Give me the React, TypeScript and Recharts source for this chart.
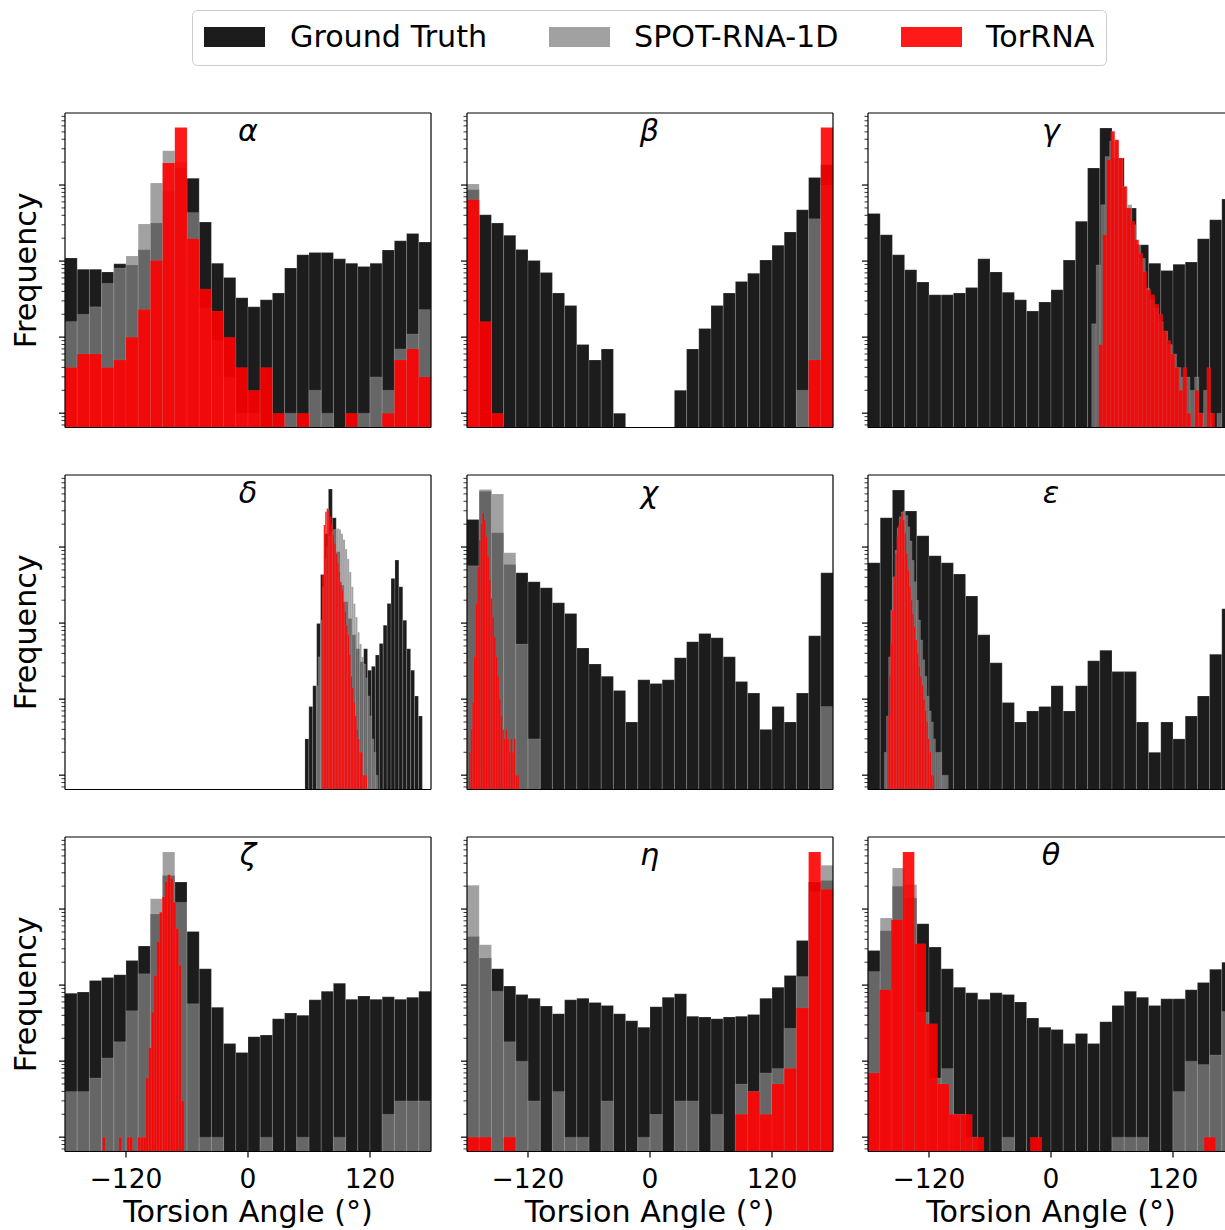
import React from 'react';
import { ComposedChart, XAxis, YAxis, ReferenceArea, Line } from 'recharts';

const FONT = '"DejaVu Sans", sans-serif';
const FLOOR = 0.648;
const CEIL = 8860;
const BINS = 30;
const FULL = [-180, 180];

// counts per bin, 30 bins over each series' own range
const alphaTruth = [110, 78, 78, 72, 92, 89, 141, 316, 826, 1675, 1233, 326, 94, 61, 33, 25, 31, 38, 81, 121, 130, 130, 107, 94, 85, 94, 140, 185, 231, 178];
const alphaSpot = [16, 20, 25, 51, 81, 117, 307, 1062, 2830, 2000, 437, 24, 9, 3, 1, 1, 0, 0, 1, 0, 2, 1, 0, 0, 1, 3, 2, 7, 11, 23];
const alphaTor = [4, 6, 6, 4, 5, 10, 23, 102, 1947, 5700, 197, 43, 22, 10, 4, 2, 4, 1, 0, 1, 0, 0, 0, 1, 0, 0, 1, 5, 7, 3];

const betaTruth = [869, 407, 316, 218, 142, 102, 71, 38, 26, 8, 5, 7, 1, 0, 0, 0, 0, 2, 7, 13, 26, 38, 54, 69, 103, 162, 241, 473, 1260, 1850];
const betaSpot = [1030, 0, 0, 0, 0, 0, 0, 0, 0, 0, 0, 0, 0, 0, 0, 0, 0, 0, 0, 0, 0, 0, 0, 0, 0, 0, 0, 2, 360, 1000];
const betaTor = [641, 16, 1, 0, 0, 0, 0, 0, 0, 0, 0, 0, 0, 0, 0, 0, 0, 0, 0, 0, 0, 0, 0, 0, 0, 0, 0, 0, 5, 5700];

const gammaTruth = [424, 222, 121, 77, 53, 36, 36, 38, 45, 107, 72, 39, 31, 22, 29, 42, 103, 333, 1675, 5620, 2265, 498, 164, 94, 75, 91, 97, 197, 350, 654];
const gammaSpotRange = [40, 172];
const gammaSpot = [15, 89, 551, 2380, 3800, 3760, 2265, 960, 551, 301, 164, 109, 44, 31, 24, 16, 12, 8, 6, 4, 3, 3, 2, 3, 1, 2, 1, 0, 1, 0];
const gammaTorRange = [47, 165];
const gammaTor = [8, 222, 2155, 5080, 3950, 2265, 960, 498, 333, 191, 127, 73, 42, 36, 27, 20, 12, 9, 6, 4, 2, 4, 1, 0, 2, 1, 0, 4, 1, 0];

const deltaTruthRange = [56, 171.5];
const deltaTruth = [3, 8, 15, 99, 437, 1500, 5800, 2430, 870, 316, 191, 115, 70, 46, 31, 46, 24, 27, 38, 54, 94, 181, 387, 674, 300, 109, 46, 24, 11, 6];
const deltaSpotRange = [67, 128];
const deltaSpot = [15, 36, 109, 301, 700, 1000, 1400, 1600, 1700, 1720, 1750, 1700, 1500, 1250, 940, 700, 470, 300, 180, 120, 76, 53, 36, 29, 19, 11, 6, 3, 2, 1];
const deltaTorRange = [73, 117];
const deltaTor = [428, 1947, 2915, 3220, 3070, 2500, 1947, 1435, 1110, 820, 610, 470, 350, 270, 190, 141, 94, 70, 38, 20, 14, 9, 6, 4, 3, 2, 2, 1, 1, 1];

const chiTruth = [2310, 5400, 1545, 591, 459, 350, 292, 185, 134, 47, 29, 20, 13, 5, 18, 16, 18, 35, 57, 73, 64, 36, 17, 12, 4, 8, 5, 12, 68, 459];
const chiSpot = [568, 5700, 4980, 842, 53, 3, 0, 0, 0, 0, 0, 0, 0, 0, 0, 0, 0, 0, 0, 0, 0, 0, 0, 0, 0, 0, 0, 0, 0, 8];
const chiTorRange = [-178, -129];
const chiTor = [2, 4, 9, 36, 182, 550, 1230, 2040, 2800, 2270, 1370, 750, 370, 210, 121, 66, 36, 20, 10, 6, 4, 3, 4, 3, 2, 3, 2, 3, 1, 1];

const epsTruth = [622, 2430, 5620, 2980, 1410, 769, 622, 441, 227, 70, 30, 9, 5, 7, 8, 15, 7, 15, 32, 44, 23, 23, 5, 2, 5, 3, 6, 11, 39, 154];
const epsSpotRange = [-164, -101];
const epsSpot = [2, 6, 36, 148, 405, 910, 1800, 2500, 2900, 3000, 2600, 1850, 1200, 670, 350, 200, 110, 60, 33, 20, 11, 7, 5, 3, 2, 2, 2, 1, 1, 1];
const epsTorRange = [-161, -115];
const epsTor = [6, 20, 54, 148, 405, 830, 1370, 1950, 2380, 2800, 2270, 1520, 830, 500, 300, 200, 133, 89, 60, 40, 27, 20, 15, 10, 7, 5, 3, 2, 1, 1];

const zetaTruth = [78, 81, 115, 126, 137, 211, 326, 860, 2770, 2265, 508, 164, 51, 17, 13, 21, 22, 36, 43, 40, 64, 83, 106, 65, 72, 65, 70, 65, 69, 83];
const zetaSpot = [4, 4, 6, 11, 18, 46, 141, 1370, 5620, 1233, 57, 1, 1, 0, 0, 0, 1, 0, 0, 1, 0, 0, 1, 0, 0, 0, 2, 3, 3, 3];
const zetaTorRange = [-143, -63];
const zetaTor = [1, 0, 0, 0, 0, 0, 1, 0, 0, 1, 1, 0, 0, 1, 1, 1, 6, 15, 44, 134, 370, 910, 1440, 2265, 2830, 2500, 1233, 550, 182, 3];

const etaTruth = [437, 227, 164, 97, 75, 67, 53, 42, 64, 67, 59, 54, 42, 34, 28, 52, 69, 77, 39, 38, 36, 38, 39, 41, 67, 94, 134, 387, 2265, 2380];
const etaSpot = [2050, 340, 83, 18, 10, 3, 0, 4, 1, 1, 0, 3, 0, 0, 1, 2, 0, 3, 3, 0, 2, 0, 5, 4, 7, 8, 27, 130, 1675, 3760];
const etaTor = [1, 1, 0, 1, 0, 0, 0, 0, 0, 0, 0, 0, 0, 0, 0, 0, 0, 0, 0, 0, 0, 0, 2, 4, 2, 5, 8, 50, 5620, 1815];

const thetaTruth = [286, 519, 1990, 1400, 641, 316, 164, 94, 79, 65, 79, 75, 60, 37, 28, 26, 17, 23, 17, 33, 54, 83, 69, 54, 66, 66, 87, 108, 161, 200];
const thetaSpot = [151, 762, 3460, 2100, 44, 6, 8, 2, 1, 0, 0, 1, 0, 0, 0, 0, 0, 0, 0, 0, 1, 1, 1, 0, 0, 4, 10, 9, 12, 45];
const thetaTorRange = [-180, 162];
const thetaTor = [7, 87, 724, 5620, 350, 31, 5, 2, 2, 1, 0, 0, 0, 0, 1, 0, 0, 0, 0, 0, 0, 0, 0, 0, 0, 0, 0, 0, 0, 1];

const xTicks = [-120, 0, 120];
const yTicks = [0.7, 0.8, 0.9, 1, 2, 3, 4, 5, 6, 7, 8, 9, 10, 20, 30, 40, 50, 60, 70, 80, 90, 100, 200, 300, 400, 500, 600, 700, 800, 900, 1000, 2000, 3000, 4000, 5000, 6000, 7000, 8000];
const yMajor = [1, 10, 100, 1000];

const seriesStyle = [
  { name: 'Ground Truth', fill: '#000000', opacity: 0.89, seam: 0.25, swatch: '#1c1c1c' },
  { name: 'SPOT-RNA-1D', fill: '#808080', opacity: 0.74, seam: 0.16, swatch: '#a1a1a1' },
  { name: 'TorRNA', fill: '#ff0000', opacity: 0.9, seam: 0.08, swatch: '#ff1a1a' },
];

const panels = [
  { title: 'α', hists: [[FULL, alphaTruth], [FULL, alphaSpot], [FULL, alphaTor]] },
  { title: 'β', hists: [[FULL, betaTruth], [FULL, betaSpot], [FULL, betaTor]] },
  { title: 'γ', hists: [[FULL, gammaTruth], [gammaSpotRange, gammaSpot], [gammaTorRange, gammaTor]] },
  { title: 'δ', hists: [[deltaTruthRange, deltaTruth], [deltaSpotRange, deltaSpot], [deltaTorRange, deltaTor]] },
  { title: 'χ', hists: [[FULL, chiTruth], [FULL, chiSpot], [chiTorRange, chiTor]] },
  { title: 'ε', hists: [[FULL, epsTruth], [epsSpotRange, epsSpot], [epsTorRange, epsTor]] },
  { title: 'ζ', hists: [[FULL, zetaTruth], [FULL, zetaSpot], [zetaTorRange, zetaTor]] },
  { title: 'η', hists: [[FULL, etaTruth], [FULL, etaSpot], [FULL, etaTor]] },
  { title: 'θ', hists: [[FULL, thetaTruth], [FULL, thetaSpot], [thetaTorRange, thetaTor]] },
] as { title: string; hists: [number[], number[]][] }[];

const COL_X = [65, 466.5, 868];
const ROW_Y = [113, 475, 837];
const PLOT_W = 366;
const PLOT_H = 314.5;
const TEXT_SIZE = 30.2;
const TICK_SIZE = 26.5;

// one point per ground-truth bin so the axes have data to scale against
function binPoints(range: number[], counts: number[]) {
  const step = (range[1] - range[0]) / BINS;
  return counts.map((c, i) => ({ x: range[0] + (i + 0.5) * step, y: c > 0 ? c : null }));
}

function YTick(props: any) {
  const { x, y, payload } = props;
  const major = yMajor.includes(payload.value);
  const len = major ? 6 : 3.5;
  return <line x1={x - len} x2={x} y1={y} y2={y} stroke="#000" strokeWidth={major ? 1.2 : 0.8} />;
}

function XTick(props: any) {
  const { x, y, payload } = props;
  const v = payload.value;
  const label = v < 0 ? `\u2212${-v}` : `${v}`;
  return (
    <text x={x} y={y + 30} textAnchor="middle" fontSize={TICK_SIZE} fontFamily={FONT} fill="#000">
      {label}
    </text>
  );
}

function Panel({ index }: { index: number }) {
  const panel = panels[index];
  const row = Math.floor(index / 3);
  const col = index % 3;
  const bottom = row === 2;
  const xAxisH = bottom ? 44 : 1;
  const width = 8 + PLOT_W + 2;
  const height = 2 + PLOT_H + xAxisH + (bottom ? 0 : 1);
  const data = binPoints(panel.hists[0][0], panel.hists[0][1]);

  return (
    <div style={{ position: 'absolute', left: COL_X[col] - 8, top: ROW_Y[row] - 2 }}>
      <ComposedChart width={width} height={height} data={data} margin={{ top: 1, right: 1, bottom: bottom ? 0 : 1, left: 0 }}>
        <XAxis
          dataKey="x"
          type="number"
          domain={[-180, 180]}
          allowDataOverflow
          ticks={xTicks}
          interval={0}
          height={xAxisH}
          tickSize={bottom ? 6 : 0}
          tickMargin={0}
          tickLine={bottom ? { stroke: '#000', strokeWidth: 1.2 } : false}
          tick={bottom ? <XTick /> : false}
          axisLine={{ stroke: '#000', strokeWidth: 1.2 }}
        />
        <XAxis
          xAxisId="top"
          orientation="top"
          dataKey="x"
          type="number"
          domain={[-180, 180]}
          allowDataOverflow
          height={1}
          tick={false}
          tickLine={false}
          axisLine={{ stroke: '#000', strokeWidth: 1.2 }}
        />
        <YAxis
          type="number"
          scale="log"
          domain={[FLOOR, CEIL]}
          allowDataOverflow
          ticks={yTicks}
          interval={0}
          width={8}
          tickSize={0}
          tickMargin={0}
          tickLine={false}
          tick={<YTick />}
          axisLine={{ stroke: '#000', strokeWidth: 1.2 }}
        />
        <YAxis
          yAxisId="right"
          orientation="right"
          type="number"
          scale="log"
          domain={[FLOOR, CEIL]}
          allowDataOverflow
          width={1}
          tick={false}
          tickLine={false}
          axisLine={{ stroke: '#000', strokeWidth: 1.2 }}
        />
        <Line dataKey="y" stroke="none" dot={false} activeDot={false} isAnimationActive={false} legendType="none" />
        {panel.hists.map(([range, counts], s) => {
          const style = seriesStyle[s];
          const step = (range[1] - range[0]) / BINS;
          return counts.map((c, i) =>
            c > 0 ? (
              <ReferenceArea
                key={`${s}-${i}`}
                x1={range[0] + i * step}
                x2={range[0] + (i + 1) * step}
                y1={FLOOR}
                y2={c}
                fill={style.fill}
                fillOpacity={style.opacity}
                stroke="#ffffff"
                strokeOpacity={style.seam}
                strokeWidth={0.7}
                ifOverflow="hidden"
              />
            ) : null
          );
        })}
      </ComposedChart>
    </div>
  );
}

function Overlay() {
  const swatchX = [204, 549, 901];
  const textX = [290, 634, 986];
  return (
    <svg width={1225} height={1230} style={{ position: 'absolute', left: 0, top: 0, pointerEvents: 'none' }}>
      <rect x={192.5} y={10.5} width={914} height={55} rx={5} fill="#ffffff" fillOpacity={0.8} stroke="#cccccc" strokeWidth={1} />
      {seriesStyle.map((s, i) => (
        <g key={s.name}>
          <rect x={swatchX[i]} y={27} width={61} height={20} fill={s.swatch} />
          <text x={textX[i]} y={47} fontSize={TEXT_SIZE} fontFamily={FONT} fill="#000">
            {s.name}
          </text>
        </g>
      ))}
      {panels.map((p, i) => {
        const row = Math.floor(i / 3);
        const col = i % 3;
        return (
          <text
            key={p.title}
            x={COL_X[col] + PLOT_W / 2}
            y={ROW_Y[row] + 28}
            textAnchor="middle"
            fontSize={TEXT_SIZE}
            fontStyle="italic"
            fontFamily={FONT}
            fill="#000"
          >
            {p.title}
          </text>
        );
      })}
      {ROW_Y.map((y) => (
        <text
          key={`f${y}`}
          transform={`translate(36, ${y + PLOT_H / 2}) rotate(-90)`}
          textAnchor="middle"
          fontSize={TEXT_SIZE}
          fontFamily={FONT}
          fill="#000"
        >
          Frequency
        </text>
      ))}
      {COL_X.map((x) => (
        <text key={`t${x}`} x={x + PLOT_W / 2} y={1222} textAnchor="middle" fontSize={TEXT_SIZE} fontFamily={FONT} fill="#000">
          Torsion Angle (°)
        </text>
      ))}
    </svg>
  );
}

export default function App() {
  return (
    <div
      style={{
        position: 'absolute',
        left: 0,
        top: 0,
        width: 1225,
        height: 1230,
        overflow: 'hidden',
        background: '#ffffff',
        fontFamily: FONT,
      }}
    >
      {panels.map((p, i) => (
        <Panel key={p.title} index={i} />
      ))}
      <Overlay />
    </div>
  );
}
